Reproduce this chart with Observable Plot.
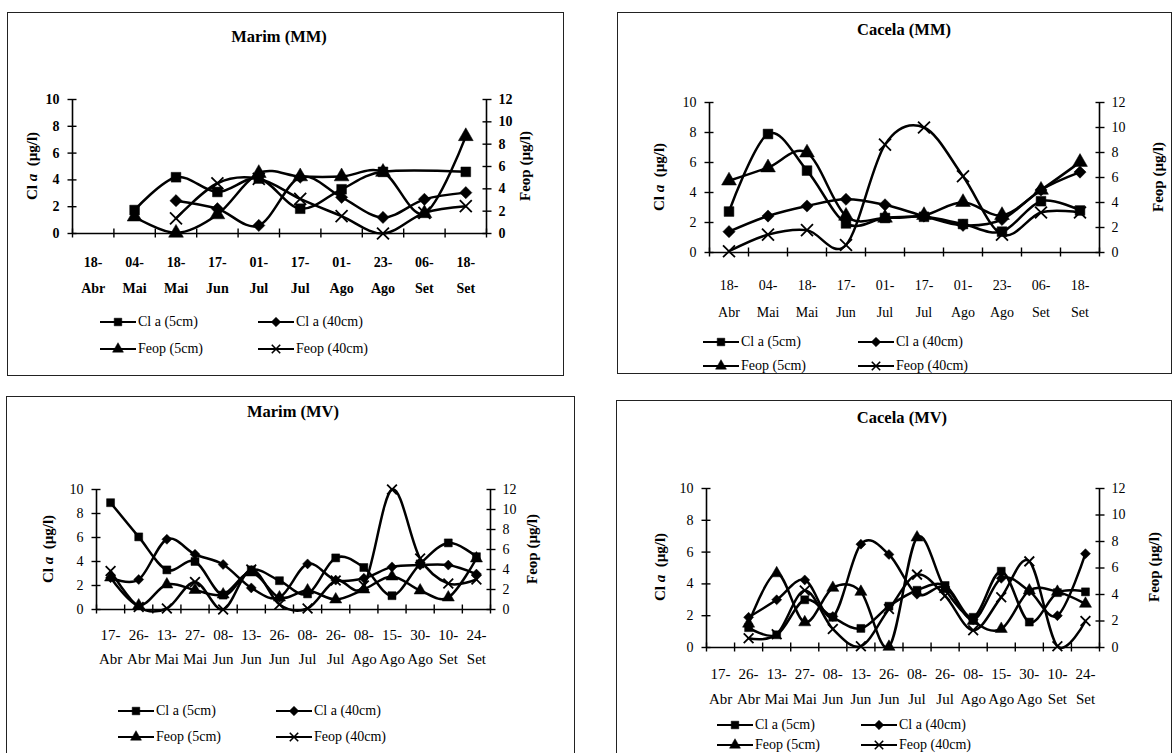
<!DOCTYPE html>
<html><head><meta charset="utf-8">
<script src="https://cdn.jsdelivr.net/npm/d3@7"></script>
<script src="https://cdn.jsdelivr.net/npm/@observablehq/plot@0.6"></script>
<style>
body{margin:0;width:1176px;height:753px;overflow:hidden;background:#fff;font-family:"Liberation Serif","Times New Roman",serif;position:relative;}
.box{position:absolute;border:1.5px solid #222;box-sizing:border-box;}
.abs{position:absolute;white-space:nowrap;color:#000;}
.title{font-weight:bold;font-size:16.5px;transform:translate(-50%,-50%);}
.ylab{font-weight:bold;font-size:15px;transform:translate(-50%,-50%) rotate(-90deg);}
.leg{font-size:14px;display:flex;align-items:center;transform:translateY(-50%);}
.leg svg{margin-right:2px;}
.plotwrap{position:absolute;}
</style></head><body>
<script>
// ---- categories ----
const mmDays   = ["18-","04-","18-","17-","01-","17-","01-","23-","06-","18-"];
const mmMonths = ["Abr","Mai","Mai","Jun","Jul","Jul","Ago","Ago","Set","Set"];
const mvDays   = ["17-","26-","13-","27-","08-","13-","26-","08-","26-","08-","15-","30-","10-","24-"];
const mvMonths = ["Abr","Abr","Mai","Mai","Jun","Jun","Jun","Jul","Jul","Ago","Ago","Ago","Set","Set"];
const seriesNames = ["Cl a (5cm)","Cl a (40cm)","Feop (5cm)","Feop (40cm)"];
const leftTicks  = [0,2,4,6,8,10];
const rightTicks = [0,2,4,6,8,10,12];

// ---- Marim (MM) ----  Cl a on left axis, Feop on right axis
const marimMM_cla5   = [null,1.75,4.2,3.1,4.1,1.85,3.3,4.6,null,4.6];
const marimMM_cla40  = [null,null,2.45,1.85,0.6,4.2,2.7,1.2,2.55,3.05];
const marimMM_feop5  = [null,1.5,0.05,1.7,5.4,5.1,5.1,5.5,1.8,8.7];
const marimMM_feop40 = [null,null,1.35,4.5,4.9,3.1,1.55,0,1.85,2.45];

// ---- Cacela (MM) ----
const cacelaMM_cla5   = [2.73,7.9,5.46,1.94,2.3,2.38,1.9,1.39,3.42,2.8];
const cacelaMM_cla40  = [1.39,2.43,3.1,3.55,3.18,2.43,1.81,2.2,4.17,5.36];
const cacelaMM_feop5  = [5.74,6.79,7.98,2.92,2.77,2.98,4.02,2.98,5.0,7.23];
const cacelaMM_feop40 = [0.1,1.43,1.79,0.6,8.63,10.0,6.1,1.43,3.2,3.2];

// ---- Marim (MV) ----
const marimMV_cla5   = [8.9,6.05,3.3,4.0,1.2,3.3,2.4,1.3,4.3,3.5,1.15,3.8,5.55,4.4];
const marimMV_cla40  = [2.65,2.5,5.85,4.6,3.75,1.8,1.0,3.8,2.45,2.6,3.55,3.7,3.7,2.95];
const marimMV_feop5  = [3.2,0.4,2.5,1.95,1.5,3.7,1.2,1.9,1.0,2.0,3.3,1.9,1.2,5.1];
const marimMV_feop40 = [3.85,0.25,0.1,2.75,0.0,4.0,0.5,0.1,2.9,2.4,12.0,5.1,2.6,3.0];

// ---- Cacela (MV) ----
const cacelaMV_cla5   = [null,1.25,0.8,3.0,1.9,1.2,2.6,3.6,3.9,1.9,4.8,1.6,3.45,3.5];
const cacelaMV_cla40  = [null,1.9,3.0,4.25,1.95,6.5,5.85,3.35,3.8,1.75,4.35,3.55,2.0,5.9];
const cacelaMV_feop5  = [null,1.8,5.6,1.9,4.5,4.2,0.05,8.3,4.4,2.0,1.4,4.3,4.2,3.3];
const cacelaMV_feop40 = [null,0.7,1.0,4.3,1.4,0.1,2.9,5.5,3.9,1.3,3.8,6.5,0.1,2.0];

const symbols = ["square","diamond2","triangle","times"];
const d3symbols = [d3.symbolSquare, d3.symbolDiamond2, d3.symbolTriangle, d3.symbolTimes];

const panels = [
  {title:"Marim (MM)", days:mmDays, months:mmMonths,
   series:[marimMM_cla5,marimMM_cla40,marimMM_feop5,marimMM_feop40],
   box:[7,12,564,376], plot:[72,99,486,233], titleXY:[279,37],
   ylab:[32,166], ylabR:[525,166], xpad:[24,50], fs:14, xfs:14, bold:true, r:5.5,
   legCols:[100,258], legRows:[322,349]},
  {title:"Cacela (MM)", days:mmDays, months:mmMonths,
   series:[cacelaMM_cla5,cacelaMM_cla40,cacelaMM_feop5,cacelaMM_feop40],
   box:[617,12,1172,374], plot:[709,102,1099,252], titleXY:[904,30],
   ylab:[659,177], ylabR:[1158,177], xpad:[28,55], fs:14, xfs:14, bold:false, r:5.5,
   legCols:[703,858], legRows:[342,366]},
  {title:"Marim (MV)", days:mvDays, months:mvMonths,
   series:[marimMV_cla5,marimMV_cla40,marimMV_feop5,marimMV_feop40],
   box:[6,396,575,770], plot:[96,489,490,609], titleXY:[293,412],
   ylab:[48,549], ylabR:[532,549], xpad:[20,44], fs:14, xfs:15, bold:false, r:4.5,
   legCols:[118,276], legRows:[711,737]},
  {title:"Cacela (MV)", days:mvDays, months:mvMonths,
   series:[cacelaMV_cla5,cacelaMV_cla40,cacelaMV_feop5,cacelaMV_feop40],
   box:[616,400,1172,770], plot:[706,488,1099,647], titleXY:[902,418],
   ylab:[660,567], ylabR:[1154,567], xpad:[21,46], fs:14, xfs:15, bold:false, r:4.5,
   legCols:[717,861], legRows:[725,745]}
];

function el(tag, cls, css, html){
  const e=document.createElement(tag); if(cls) e.className=cls;
  Object.assign(e.style, css||{}); if(html!=null) e.innerHTML=html;
  document.body.appendChild(e); return e;
}

function legendIcon(k){
  const sym = d3.symbol(d3symbols[k], k===3?48:(k===2?52:58))();
  const fill = k===3 ? "none" : "#000";
  return `<svg width="36" height="14" viewBox="0 0 36 14"><line x1="0" x2="36" y1="7" y2="7" stroke="#000" stroke-width="2"/>`+
    `<path d="${sym}" transform="translate(18,7)" fill="${fill}" stroke="#000" stroke-width="${k===3?1.6:0.5}"/></svg>`;
}

panels.forEach(cfg=>{
  const [bl,bt,br,bb]=cfg.box;
  el("div","box",{left:bl+"px",top:bt+"px",width:(br-bl)+"px",height:(bb-bt)+"px"});
  el("div","abs title",{left:cfg.titleXY[0]+"px",top:cfg.titleXY[1]+"px"},cfg.title);
  el("div","abs ylab",{left:cfg.ylab[0]+"px",top:cfg.ylab[1]+"px"},"Cl <i>a</i> &nbsp;(µg/l)");
  el("div","abs ylab",{left:cfg.ylabR[0]+"px",top:cfg.ylabR[1]+"px"},"Feop (µg/l)");

  const n = cfg.days.length;
  const [pl,pt,pr,pb] = cfg.plot;
  const mL=70,mR=70,mT=14,mB=80;
  const W=pr-pl+mL+mR, H=pb-pt+mT+mB;
  const rightScaled = rightTicks.map(v=>v*10/12);
  const marks = [];
  // axis lines
  marks.push(Plot.ruleY([0],{stroke:"#000",strokeWidth:1.6}));
  marks.push(Plot.ruleX([0,n],{stroke:"#000",strokeWidth:1.6}));
  // crossing tick marks
  marks.push(Plot.axisX({ticks:d3.range(n+1),tickSize:9,dy:-4.5,tickFormat:()=>"",label:null,strokeWidth:1.4}));
  marks.push(Plot.axisY({ticks:leftTicks,anchor:"left",tickSize:9,dx:4.5,tickFormat:()=>"",label:null,strokeWidth:1.4}));
  marks.push(Plot.axisY({ticks:rightScaled,anchor:"right",tickSize:9,dx:-4.5,tickFormat:()=>"",label:null,strokeWidth:1.4}));
  // tick labels
  marks.push(Plot.axisY({ticks:leftTicks,anchor:"left",tickSize:0,tickPadding:13,label:null,tickFormat:d=>String(d)}));
  marks.push(Plot.axisY({ticks:rightScaled,anchor:"right",tickSize:0,tickPadding:12,label:null,tickFormat:d=>String(Math.round(d*1.2))}));
  const centers = d3.range(n).map(i=>i+0.5);
  marks.push(Plot.axisX({ticks:centers,tickSize:0,tickPadding:cfg.xpad[0],label:null,fontSize:cfg.xfs,tickFormat:d=>cfg.days[Math.floor(d)]}));
  marks.push(Plot.axisX({ticks:centers,tickSize:0,tickPadding:cfg.xpad[1],label:null,fontSize:cfg.xfs,tickFormat:d=>cfg.months[Math.floor(d)]}));
  // series lines
  cfg.series.forEach((vals,s)=>{
    const pts=[];
    vals.forEach((v,i)=>{ if(v!=null) pts.push({x:i+0.5, y: s>=2 ? v*10/12 : v}); });
    marks.push(Plot.line(pts,{x:"x",y:"y",curve:"cardinal",stroke:"#000",strokeWidth:2.5}));
  });
  // series markers
  cfg.series.forEach((vals,s)=>{
    const pts=[];
    vals.forEach((v,i)=>{ if(v!=null) pts.push({x:i+0.5, y: s>=2 ? v*10/12 : v}); });
    if(s===3) marks.push(Plot.dot(pts,{x:"x",y:"y",symbol:"times",r:cfg.r,stroke:"#000",strokeWidth:1.8,fill:"none"}));
    else marks.push(Plot.dot(pts,{x:"x",y:"y",symbol:symbols[s],r:cfg.r,fill:"#000",stroke:"#000",strokeWidth:0.5}));
  });
  const svg = Plot.plot({
    width:W, height:H, marginLeft:mL, marginRight:mR, marginTop:mT, marginBottom:mB,
    x:{domain:[0,n],axis:null}, y:{domain:[0,10],axis:null},
    style:{background:"transparent",fontFamily:"'Liberation Serif','Times New Roman',serif",fontSize:cfg.fs+"px",fontWeight:cfg.bold?"bold":"normal",color:"#000",overflow:"visible"},
    marks
  });
  const wrap = el("div","plotwrap",{left:(pl-mL)+"px",top:(pt-mT)+"px",width:W+"px",height:H+"px"});
  wrap.appendChild(svg);

  // legend
  [[0,1],[2,3]].forEach((row,ri)=>{
    row.forEach((k,ci)=>{
      el("div","abs leg",{left:cfg.legCols[ci]+"px",top:cfg.legRows[ri]+"px"},legendIcon(k)+seriesNames[k]);
    });
  });
});
</script>
</body></html>
